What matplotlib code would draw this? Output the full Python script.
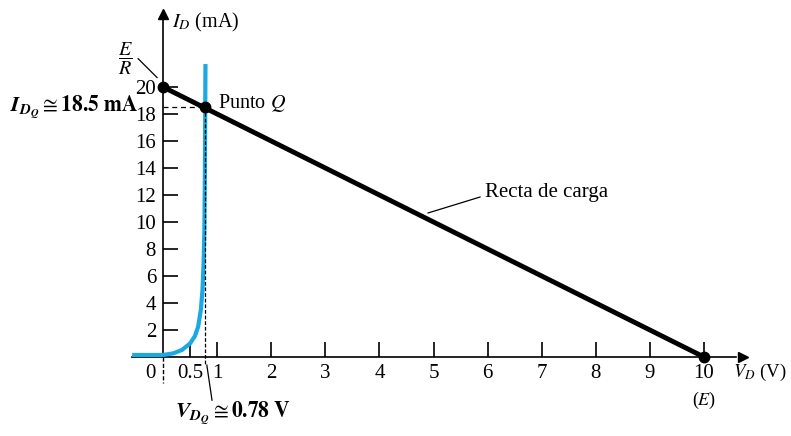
import numpy as np
import matplotlib
matplotlib.use("Agg")
import matplotlib.pyplot as plt

plt.rcParams['font.family'] = ['Liberation Serif', 'DejaVu Serif']
plt.rcParams['mathtext.fontset'] = 'stix'

# load line: E/R = 20 mA at V=0, E = 10 V at I=0
load_v = [0, 10]
load_i = [20, 0]

# diode characteristic
diode_v = [-0.57, 0.0, 0.19, 0.35, 0.50, 0.59, 0.65, 0.70, 0.73, 0.75, 0.765, 0.775, 0.785]
diode_i = [0.15, 0.15, 0.27, 0.52, 1.0, 1.55, 2.25, 3.5, 4.96, 6.9, 9.4, 14.0, 21.7]

q_v, q_i = 0.78, 18.5

x_ticks = [0.5, 1, 2, 3, 4, 5, 6, 7, 8, 9, 10]
x_labels = ['0.5', '1', '2', '3', '4', '5', '6', '7', '8', '9', '10']
y_ticks = [2, 4, 6, 8, 10, 12, 14, 16, 18, 20]

blue = '#1aa9e3'

fig = plt.figure(figsize=(7.91, 4.36), dpi=100)
ax = fig.add_axes([0, 0, 1, 1])
ax.set_xlim(-163 / 54.1, (791 - 163) / 54.1)
ax.set_ylim(-79 / 13.5, 357 / 13.5)

for s in ['top', 'right']:
    ax.spines[s].set_visible(False)
ax.spines['left'].set_position(('data', 0))
ax.spines['bottom'].set_position(('data', 0))
ax.spines['left'].set_bounds(0, 25.2)
ax.spines['bottom'].set_bounds(-0.57, 10.6)
for s in ['left', 'bottom']:
    ax.spines[s].set_linewidth(1.2)
    ax.spines[s].set_zorder(1)

# arrow heads
ax.plot([10.72], [0], marker='>', color='k', ms=7, clip_on=False)
ax.plot([0], [25.4], marker='^', color='k', ms=7, clip_on=False)
# y axis continues dashed below the origin
ax.plot([0, 0], [0, -1.9], color='k', lw=1, ls=(0, (3, 1.5)))

ax.set_xticks(x_ticks)
ax.set_xticklabels(x_labels)
ax.set_yticks(y_ticks)
ax.tick_params(axis='both', direction='in', length=11, width=1.2, labelsize=15, pad=5)

ax.text(-0.24, -0.55, '0', fontsize=15, ha='center', va='top')

# curves
ax.plot(diode_v, diode_i, color=blue, lw=3, solid_capstyle='butt', zorder=2)
ax.plot(load_v, load_i, color='k', lw=3.5, zorder=3)
ax.plot([load_v[0], q_v, load_v[1]], [load_i[0], q_i, load_i[1]], 'o', color='k', ms=7.5, zorder=4)

# Q point guides
ax.plot([0, q_v], [q_i, q_i], color='k', lw=0.9, ls=(0, (4, 3)))
ax.plot([q_v, q_v], [q_i, -0.55], color='k', lw=0.9, ls=(0, (3, 1.5)))
ax.plot([0.81, 0.906], [-0.6, -3.2], color='k', lw=0.9)

# labels
ax.text(0.17, 24.8, r'$I_D$ (mA)', fontsize=14.5, ha='left', va='center')
ax.text(10.54, -1.15, r'$V_D$ (V)', fontsize=13.5, ha='left', va='center')
ax.text(10.0, -3.2, '($E$)', fontsize=13, ha='center', va='center')
ax.text(-0.70, 22.1, r'$\dfrac{E}{R}$', fontsize=14.5, ha='center', va='center')
ax.plot([-0.46, -0.11], [22.1, 20.7], color='k', lw=0.9)
ax.text(1.02, 18.8, r'Punto $Q$', fontsize=14.5, ha='left', va='center')
ax.text(-0.46, 18.15, r'$\mathbfit{I}_{\mathbfit{D}_{\mathbfit{Q}}} \cong \mathbf{18.5\ mA}$',
        fontsize=15.5, ha='right', va='baseline')
ax.text(0.22, -4.5, r'$\mathbfit{V}_{\mathbfit{D}_{\mathbfit{Q}}} \cong \mathbf{0.78\ V}$',
        fontsize=15.5, ha='left', va='baseline')
ax.text(5.95, 12.2, 'Recta de carga', fontsize=15, ha='left', va='center')
ax.plot([4.90, 5.86], [10.67, 11.85], color='k', lw=0.9)

fig.savefig('out.png', dpi=100)
